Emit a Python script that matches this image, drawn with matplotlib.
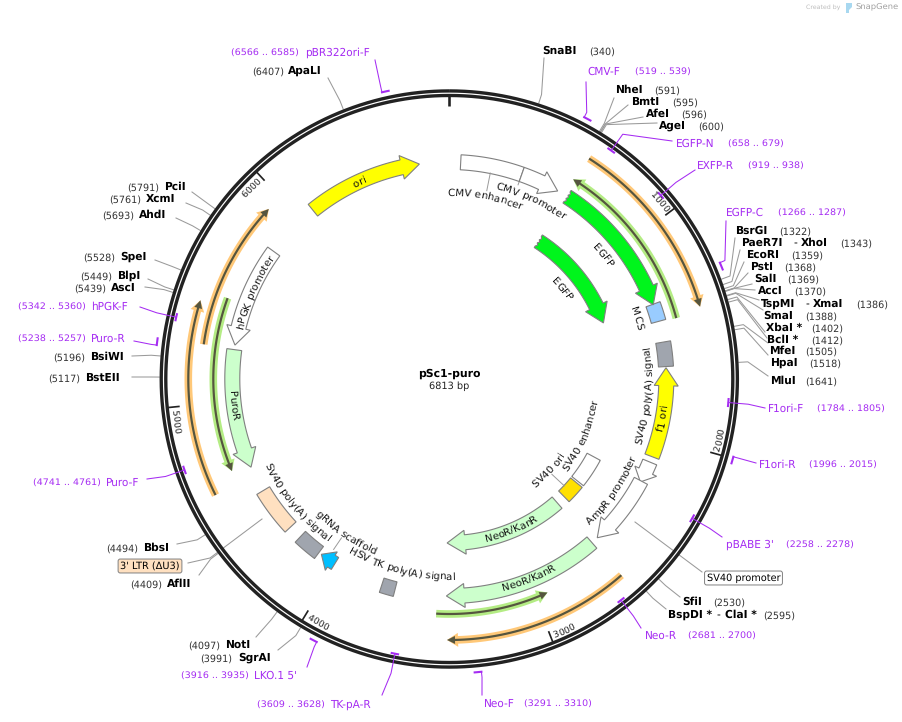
import numpy as np
import matplotlib
matplotlib.use("Agg")
import matplotlib.pyplot as plt
import matplotlib.transforms as mtransforms
from matplotlib.font_manager import FontProperties
from matplotlib.textpath import text_to_path

plt.rcParams["text.hinting"] = "no_hinting"

# plasmid
plasmid_name = "pSc1-puro"
plasmid_len = 6813
tick_bp = [1000, 2000, 3000, 4000, 5000, 6000]

# restriction sites
site_names = ["SnaBI", "NheI", "BmtI", "AfeI", "AgeI", "BsrGI", "PaeR7I", "EcoRI", "PstI", "SalI", "AccI",
              "TspMI", "SmaI", "XbaI *", "BclI *", "MfeI", "HpaI", "MluI", "SfiI", "BspDI *", "SgrAI", "NotI",
              "AflII", "BbsI", "BstEII", "BsiWI", "AscI", "BlpI", "SpeI", "AhdI", "XcmI", "PciI", "ApaLI"]
site_bp = [340, 591, 595, 596, 600, 1322, 1343, 1359, 1368, 1369, 1370,
           1386, 1388, 1402, 1412, 1505, 1518, 1641, 2530, 2595, 3991, 4097,
           4409, 4494, 5117, 5196, 5439, 5449, 5528, 5693, 5761, 5791, 6407]
# where each site label sits: name x, number x, y, leader end x, leader end y
site_name_x = [542, 615, 631, 646, 659, 735, 741, 746, 750, 754, 758,
               761, 763, 766, 767, 769, 770, 770, 682, 668, 238, 225,
               167, 143, 85, 90, 111, 117, 120, 139, 146, 164, 288]
site_num_x = [589, 654, 672, 681, 698, 779, 840, 791, 784, 787, 794,
              856, 805, 811, 811, 805, 809, 805, 713, 763, 200, 188,
              130, 106, 48, 53, 74, 80, 83, 102, 109, 127, 252]
site_y = [51, 90, 102, 114, 126, 231, 243, 255, 267, 279, 291,
          304, 316, 328, 340, 351, 363, 381, 602, 615, 658, 645,
          584, 548, 378, 357, 288, 276, 257, 215, 199, 187, 71]
site_end_x = [544, 614, 628, 643, 657, 735, 740, 744, 748, 752, 755,
              759, 763, 765, 767, 768, 768, 768, 680, 666, 278, 256,
              199, 177, 132, 132, 145, 148, 155, 176, 186, 192, 328]
site_end_y = [58, 98, 105, 117, 123, 238, 250, 262, 273, 284, 290,
              300, 310, 332, 338, 343, 355, 376, 597, 609, 650, 637,
              575, 544, 377, 356, 287, 279, 260, 218, 203, 192, 78]

# primers
primer_names = ["CMV-F", "EGFP-N", "EXFP-R", "EGFP-C", "F1ori-F", "F1ori-R", "pBABE 3'", "Neo-R", "Neo-F",
                "TK-pA-R", "LKO.1 5'", "Puro-F", "Puro-R", "hPGK-F", "pBR322ori-F"]
primer_from = [519, 658, 919, 1266, 1784, 1996, 2258, 2681, 3291, 3609, 3916, 4741, 5238, 5342, 6566]
primer_to = [539, 679, 938, 1287, 1805, 2015, 2278, 2700, 3310, 3628, 3935, 4761, 5257, 5360, 6585]
primer_outside = [1, 0, 0, 1, 0, 1, 0, 0, 1, 0, 1, 0, 1, 0, 1]
primer_name_x = [587, 676, 697, 726, 768, 759, 726, 645, 484, 330, 254, 106, 91, 91, 305]
primer_name_y = [72, 144, 166, 213, 409, 465, 545, 636, 704, 705, 676, 483, 339, 307, 53]
primer_rng_x = [635, 728, 748, 778, 817, 809, 786, 688, 524, 257, 181, 33, 18, 18, 231]
primer_end_x = [586, 672, 695, 726, 765, 756, 722, 641, 482, 382, 307, 147, 134, 140, 375]
primer_end_y = [82, 141, 170, 221, 408, 463, 537, 628, 695, 695, 667, 479, 341, 307, 60]

# block arrows on the two feature lanes
arrow_names = ["ori", "CMV promoter", "EGFP", "EGFP", "f1 ori", "small", "AmpR promoter", "NeoR/KanR", "NeoR/KanR",
               "PuroR", "hPGK promoter", "gRNA scaffold"]
arrow_from = [6076, 369, 622, 622, 2100, 2129, 2233, 2629, 2629, 5257, 5791, 4008]
arrow_to = [6663, 567, 1325, 1325, 1647, 2239, 2593, 3421, 3421, 4656, 5280, 4090]
arrow_r = [217, 217, 217, 164, 217, 217, 217, 217, 164, 217, 217, 217]
arrow_col = ["#FFFF00", "white", "#00F51C", "#00F51C", "#FFFF00", "white", "white", "#CCFFCC", "#CCFFCC",
             "#CCFFCC", "white", "#00BFFF"]
arrow_torn = [0, 0, 1, 1, 0, 0, 0, 0, 0, 0, 0, 0]

# plain boxes
box_names = ["CMV enhancer", "MCS", "SV40 poly(A) signal", "SV40 ori", "SV40 enhancer", "3' LTR",
             "SV40 poly(A) signal", "HSV TK poly(A) signal"]
box_from = [57, 1322, 1518, 2445, 2239, 4296, 4105, 3680]
box_to = [369, 1412, 1641, 2568, 2432, 4524, 4227, 3750]
box_r = [217, 217, 217, 164, 164, 217, 217, 217]
box_col = ["white", "#99CCFF", "#A0A5AE", "#FFE000", "white", "#FFE0C0", "#A0A5AE", "#A0A5AE"]

# thin highlighted strands
strand_from = [613, 1419, 2626, 3467, 4610, 5262, 5489]
strand_to = [1399, 602, 3416, 2939, 5442, 5929, 4675]
strand_r = [261, 235, 261, 235, 261, 248, 236]
strand_col = ["#FFC878", "#B4EC84", "#FFC878", "#B4EC84", "#FFC878", "#FFC878", "#B4EC84"]

# curved labels: text, centre angle in degrees, radius
label_text = ["CMV enhancer", "CMV promoter", "EGFP", "EGFP", "MCS", "SV40 poly(A) signal", "f1 ori", "SV40 enhancer",
              "SV40 ori", "AmpR promoter", "NeoR/KanR", "NeoR/KanR", "HSV TK poly(A) signal", "gRNA scaffold",
              "SV40 poly(A) signal", "hPGK promoter", "PuroR", "ori"]
label_ang = [11.1, 24.5, 51.3, 51.3, 72, 94.8, 100.4, 113.2, 132.6, 124.5, 157.5, 158.2, 194.3, 214, 231, 294, 263,
             335.5]
label_rad = [187, 199, 198, 145, 198, 199, 216, 146, 135, 199, 163, 215, 197, 187, 200, 216, 217, 217]

W, H = 903, 722
CX, CY = 449.3, 379
R = 640
DARK = "#222222"
LEAD = "#9A9A9A"
PURPLE = "#A52CF2"
EDGE = "#808080"

fig = plt.figure(figsize=(W / 100, H / 100), dpi=100)
ax = fig.add_axes([(CX - R) / W, 1 - (CY + R) / H, 2 * R / W, 2 * R / H], polar=True)
ax.set_theta_zero_location("N")
ax.set_theta_direction(-1)
ax.set_autoscale_on(False)
ax.set_ylim(0, R)
ax.axis("off")
px = mtransforms.Affine2D().scale(1 / W, -1 / H).translate(0, 1) + fig.transFigure


def th(bp):
    return np.asarray(bp) / plasmid_len * 2 * np.pi


def to_polar(x, y):
    dx, dy = x - CX, y - CY
    return np.arctan2(dx, -dy), np.hypot(dx, dy)


def band(a, b, r, hw, col, z=3, ec=EDGE):
    t = np.linspace(th(a), th(b), 40)
    ax.fill(np.r_[t, t[::-1]], np.r_[np.full(40, r + hw), np.full(40, r - hw)],
            facecolor=col, edgecolor=ec, lw=0.8, zorder=z)


def arrow(a, b, r, hw, hh, hl, col, ec=EDGE, lw=0.8, z=3, torn=False):
    t0, t1 = th(a), th(b)
    sign = np.sign(t1 - t0)
    base = t1 - sign * hl / r
    t = np.linspace(t0, base, 40)
    ts = np.r_[t, base, t1, base, t[::-1]]
    rs = np.r_[np.full(40, r + hw), r + hh, r, r - hh, np.full(40, r - hw)]
    if torn:
        e = np.linspace(r - hw, r + hw, 9)[1:-1]
        zz = t0 + sign * np.where(np.arange(7) % 2, 1.6, 0) / r
        ts, rs = np.r_[ts, zz], np.r_[rs, e]
    ax.fill(ts, rs, facecolor=col, edgecolor=ec, lw=lw, zorder=z)


def arc_text(s, ang, r, size=7.4, color="#111111"):
    fp = FontProperties(family="DejaVu Sans", size=size)
    wid = lambda q: text_to_path.get_text_width_height_descent(q, fp, False)[0] * 100 / 72
    total = wid(s)
    flip = 90 < ang % 360 < 270
    rb = r + 3.7 if flip else r - 3.7
    for i, ch in enumerate(s):
        if ch == " ":
            continue
        off = wid(s[:i + 1]) - wid(ch) / 2 - total / 2
        a = ang - np.degrees(off / rb) if flip else ang + np.degrees(off / rb)
        rot = 180 - a if flip else -a
        ax.text(np.radians(a), rb, ch, rotation=rot, rotation_mode="anchor", ha="center", va="baseline",
                fontproperties=fp, color=color, zorder=6)


def put(x, y, s, size=7.0, weight="normal", color="black", ha="left", **kw):
    return ax.text(x, y, s, transform=px, fontsize=size, fontweight=weight, color=color, ha=ha, va="center",
                   family="DejaVu Sans", zorder=7, **kw)


# ring, with the thin white gap
t = np.linspace(0, 2 * np.pi, 721)
ax.plot(t, np.full(721, 285.8), color=DARK, lw=7.9 * 0.72, zorder=2, solid_capstyle="butt")
ax.plot(t, np.full(721, 285.8), color="white", lw=1.2 * 0.72, zorder=2.1, solid_capstyle="butt")
ax.plot([0, 0], [283, 272.5], color=DARK, lw=2.6 * 0.72, zorder=2, solid_capstyle="butt")
for k in tick_bp:
    ax.plot([th(k), th(k)], [283, 271], color=DARK, lw=1.7 * 0.72, zorder=2, solid_capstyle="butt")
    arc_text(str(k), np.degrees(th(k)) - 3.0, 276, size=6.6, color="#222222")

# strands
for a, b, r, c in zip(strand_from, strand_to, strand_r, strand_col):
    arrow(a, b, r, 3.8, 7, 11, c, ec="none", z=2.5)
    arrow(a, b, r, 1.1, 4, 8, "#55553F", ec="none", z=2.6)

# boxes and arrows
for a, b, r, c in zip(box_from, box_to, box_r, box_col):
    band(a, b, r, 7.5, c)
for a, b, r, c, tn, n in zip(arrow_from, arrow_to, arrow_r, arrow_col, arrow_torn, arrow_names):
    if n == "gRNA scaffold":
        arrow(a, b, r, 7, 11, 12, c, z=4)
    elif n == "small":
        arrow(a, b, r, 7.5, 12, 12, c, z=3.5)
    else:
        arrow(a, b, r, 7.5, 12, 18, c, z=4 if n != "CMV promoter" else 3.4, torn=bool(tn))

for s, a, r in zip(label_text, label_ang, label_rad):
    arc_text(s, a, r)

# short leaders from features to their labels
for bp0, r0, r1 in [(213, 210, 192), (2515, 157, 140), (4053, 206, 192), (369, 210, 206)]:
    ax.plot([th(bp0), th(bp0)], [r0, r1], color=LEAD, lw=0.7, zorder=3)

# restriction sites
for n, bp, nx, mx, y, ex, ey in zip(site_names, site_bp, site_name_x, site_num_x, site_y, site_end_x, site_end_y):
    te, re = to_polar(ex, ey)
    ax.plot([th(bp), th(bp), te], [290, 299, re], color=LEAD, lw=0.75, zorder=1.5)
    put(nx, y, n, size=7.7, weight="bold")
    put(mx, y + 1, "(%d)" % bp, size=6.9, color="#333333")
put(793, 243, "-", size=7.7)
put(801, 243, "XhoI", size=7.7, weight="bold")
put(805, 304, "-", size=7.7)
put(813, 304, "XmaI", size=7.7, weight="bold")
put(716, 615, "-", size=7.7)
put(725, 615, "ClaI *", size=7.7, weight="bold")

# primers
for n, a, b, out, nx, ny, rx, ex, ey in zip(primer_names, primer_from, primer_to, primer_outside, primer_name_x,
                                            primer_name_y, primer_rng_x, primer_end_x, primer_end_y):
    r = 294.5 if out else 280
    tt = np.linspace(th(a - 3), th(b + 3), 10)
    ax.plot(tt, np.full(10, r), color=PURPLE, lw=1.5, zorder=5)
    t0 = th(a - 3) if out else th((a + b) / 2)
    te, re = to_polar(ex, ey)
    ax.plot([t0, t0, te], [r, 300, re], color=PURPLE, lw=0.75, zorder=5)
    put(nx, ny, n, size=7.6, color=PURPLE)
    put(rx, ny, "(%d .. %d)" % (a, b), size=6.8, color=PURPLE)

# labelled boxes for features named outside the ring
t0, r0 = to_polar(635, 522)
t1, r1 = to_polar(702, 572)
ax.plot([t0, t1], [r0, r1], color=LEAD, lw=0.75, zorder=1.5)
put(743.5, 578, "SV40 promoter", size=7.0, ha="center",
    bbox=dict(boxstyle="round,pad=0.22", fc="white", ec=EDGE, lw=0.7))
t0, r0 = to_polar(262, 519)
t1, r1 = to_polar(210, 558)
t2, r2 = to_polar(188, 563)
ax.plot([t0, t1, t2], [r0, r1, r2], color=LEAD, lw=0.75, zorder=1.5)
put(150, 566, "3' LTR (\u0394U3)", size=7.0, ha="center",
    bbox=dict(boxstyle="round,pad=0.22", fc="#FFE0C0", ec=EDGE, lw=0.7))

# centre title
put(449, 374, plasmid_name, size=7.8, weight="bold", ha="center")
put(449, 386, "%d bp" % plasmid_len, size=7.0, color="#222222", ha="center")

# watermark
put(806, 7, "Created by", size=4.5, color="#BDBDBD")
icon = plt.Polygon([(846, 3), (852, 3), (852, 7), (849, 10), (849, 13), (846, 13)], transform=px,
                   facecolor="#A8D8F0", edgecolor="none", zorder=7, clip_on=False)
ax.add_patch(icon)
put(855, 7, "SnapGene", size=6.0, color="#A0A0A0")

fig.savefig("out.png", dpi=100, facecolor="white")
